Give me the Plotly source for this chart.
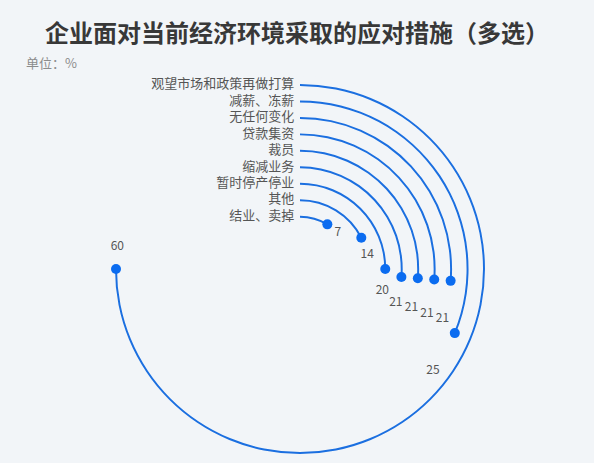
import plotly.graph_objects as go

# categories from the innermost arc to the outermost one
categories = ['结业、卖掉', '其他', '暂时停产停业', '缩减业务', '裁员',
              '贷款集资', '无任何变化', '减薪、冻薪', '观望市场和政策再做打算']
values = [7, 14, 20, 21, 21, 21, 21, 25, 60]

ANGLE_MAX = 80          # value that would close a full circle
LINE_COLOR = '#1B6FE0'
DOT_COLOR = '#0B6CF0'
BG = '#F2F5F8'
FONT = 'Noto Sans CJK SC'

positions = list(range(len(categories)))
degrees = [v * 360 / ANGLE_MAX for v in values]

fig = go.Figure()

# thin arcs drawn as polar bars (angle = value)
fig.add_trace(go.Barpolar(
    r=[0.12] * len(values),
    base=[p - 0.06 for p in positions],
    theta=[d / 2 for d in degrees],
    width=degrees,
    marker=dict(color=LINE_COLOR, line=dict(width=0)),
    hoverinfo='skip',
))

# round dot at the end of each arc
fig.add_trace(go.Scatterpolar(
    r=positions,
    theta=degrees,
    mode='markers',
    marker=dict(size=10, color=DOT_COLOR),
    hoverinfo='skip',
))

# category names at the start of the arcs
fig.add_trace(go.Scatterpolar(
    r=positions,
    theta=[0] * len(positions),
    mode='text',
    text=[c + '\u00a0\u00a0' for c in categories],
    textposition='middle left',
    textfont=dict(family=FONT, size=13, color='#555555'),
    hoverinfo='skip',
))

# value labels just past the end of the arcs
fig.add_trace(go.Scatterpolar(
    r=positions,
    theta=[d + (15 if d < 180 else 7) for d in degrees],
    mode='text',
    text=[str(v) for v in values],
    textposition='middle center',
    textfont=dict(family=FONT, size=12, color='#555555'),
    hoverinfo='skip',
))

fig.update_layout(
    width=594,
    height=463,
    margin=dict(l=0, r=0, t=0, b=0),
    paper_bgcolor=BG,
    plot_bgcolor=BG,
    showlegend=False,
    polar=dict(
        domain=dict(x=[0.1801, 0.8300], y=[0.0022, 0.8358]),
        bgcolor=BG,
        radialaxis=dict(visible=False, range=[-3.18, 8.545]),
        angularaxis=dict(visible=False, rotation=90, direction='clockwise'),
    ),
    annotations=[
        dict(text='<b>企业面对当前经济环境采取的应对措施（多选）</b>',
             x=0.5, y=1 - 32 / 463, xref='paper', yref='paper',
             xanchor='center', yanchor='middle', showarrow=False,
             font=dict(family=FONT, size=24, color='#383838')),
        dict(text='单位：%', x=24 / 594, y=1 - 62 / 463, xref='paper', yref='paper',
             xanchor='left', yanchor='middle', showarrow=False,
             font=dict(family=FONT, size=13, color='#8C8C8C')),
    ],
)

fig.write_html("out.html", config={'displayModeBar': False},
               post_script="document.body.style.margin='0';document.body.style.background='" + BG + "';")
